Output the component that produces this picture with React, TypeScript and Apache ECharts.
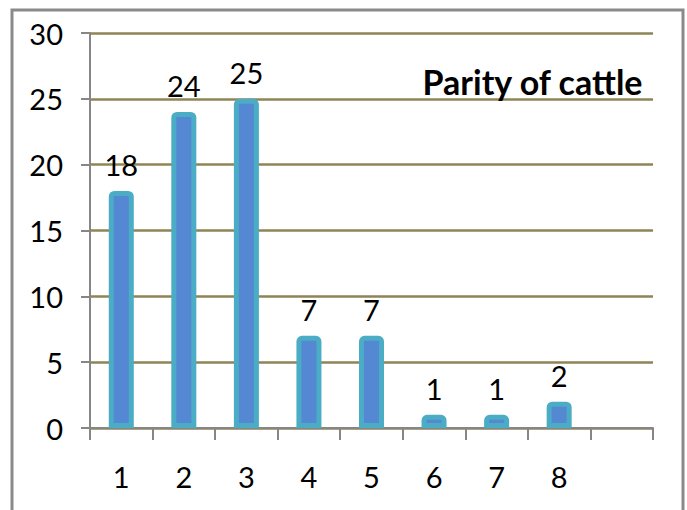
import React, { useEffect, useRef } from "react";
import * as echarts from "echarts";

const categories = ["1", "2", "3", "4", "5", "6", "7", "8", ""];
const values: (number | null)[] = [18, 24, 25, 7, 7, 1, 1, 2, null];
const yTicks = { min: 0, max: 30, interval: 5 };
const titleText = "Parity of cattle";

export default function App() {
  const ref = useRef<HTMLDivElement>(null);
  useEffect(() => {
    document.body.style.margin = "0";
    const chart = echarts.init(ref.current!, null, { renderer: "svg" });
    const font = "Lato, 'Open Sans', sans-serif";
    chart.setOption({
      animation: false,
      backgroundColor: "#ffffff",
      title: {
        text: titleText,
        right: 38,
        top: 59,
        textStyle: { fontFamily: font, fontSize: 34, fontWeight: "bold", color: "#000" },
      },
      graphic: [
        {
          type: "rect",
          shape: { x: 12, y: 10, width: 671, height: 520 },
          style: { fill: "none", stroke: "#8a8a8a", lineWidth: 3 },
          silent: true,
        },
      ],
      grid: { left: 90, right: 34, top: 33, bottom: 82 },
      xAxis: {
        type: "category",
        data: categories,
        axisLine: { lineStyle: { color: "#868686", width: 2 } },
        axisTick: { show: true, length: 12, alignWithLabel: false, lineStyle: { color: "#868686", width: 2 } },
        axisLabel: { fontFamily: font, fontSize: 29, color: "#000", margin: 34 },
        splitLine: { show: false },
      },
      yAxis: {
        type: "value",
        min: yTicks.min,
        max: yTicks.max,
        interval: yTicks.interval,
        axisLine: { show: true, lineStyle: { color: "#868686", width: 2 } },
        axisTick: { show: true, length: 9, lineStyle: { color: "#868686", width: 2 } },
        axisLabel: { fontFamily: font, fontSize: 29, color: "#000", margin: 27 },
        splitLine: { show: true, lineStyle: { color: "#8f8456", width: 2.5 } },
      },
      series: [
        {
          type: "bar",
          data: values,
          barWidth: 25,
          itemStyle: {
            color: "#5588d3",
            borderColor: "#4aacc5",
            borderWidth: 5,
            borderRadius: [3, 3, 0, 0],
          },
          label: {
            show: true,
            position: "top",
            distance: 12,
            fontFamily: font,
            fontSize: 29,
            color: "#000",
          },
        },
      ],
    });
    return () => chart.dispose();
  }, []);
  return <div ref={ref} style={{ width: 687, height: 510 }} />;
}
